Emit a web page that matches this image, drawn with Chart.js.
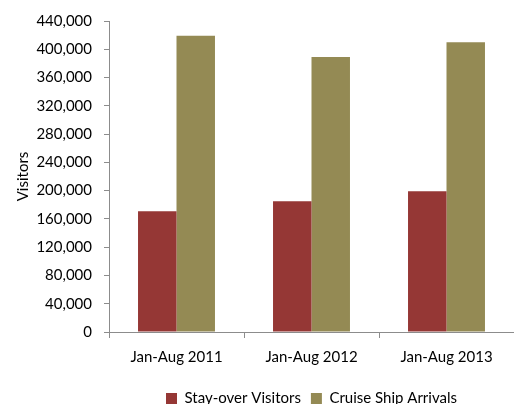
<!DOCTYPE html>
<html>
<head>
<meta charset="utf-8">
<script src="https://cdn.jsdelivr.net/npm/chart.js@4"></script>
<style>
  html, body { margin: 0; padding: 0; background: #fff; }
  #wrap { width: 514px; height: 404px; }
</style>
</head>
<body>
<div id="wrap"><canvas id="visitorsChart"></canvas></div>
<script>
const periods = ["Jan-Aug 2011", "Jan-Aug 2012", "Jan-Aug 2013"];
const stayOver = [171000, 185000, 199000];
const cruiseArrivals = [419000, 389000, 410000];
const yMax = 440000;
const yStep = 40000;

const axisColor = "#8c8c8c";
const fontFamily = "Lato, 'Liberation Sans', sans-serif";

Chart.defaults.font.family = fontFamily;
Chart.defaults.font.size = 15;
Chart.defaults.color = "#000";

const ctx = document.getElementById("visitorsChart").getContext("2d");

new Chart(ctx, {
  type: "bar",
  data: {
    labels: periods,
    datasets: [
      {
        label: "Stay-over Visitors",
        data: stayOver,
        backgroundColor: "#953735",
        barPercentage: 1,
        categoryPercentage: 0.57,
      },
      {
        label: "Cruise Ship Arrivals",
        data: cruiseArrivals,
        backgroundColor: "#948a54",
        barPercentage: 1,
        categoryPercentage: 0.57,
      },
    ],
  },
  options: {
    responsive: true,
    maintainAspectRatio: false,
    animation: false,
    layout: {
      padding: { top: 12, right: 0, bottom: -12, left: 0 },
    },
    scales: {
      y: {
        min: 0,
        max: yMax,
        ticks: {
          stepSize: yStep,
          padding: 12,
          callback: (v) => v.toLocaleString("en-US"),
        },
        grid: {
          drawOnChartArea: false,
          tickLength: 5,
          color: axisColor,
        },
        border: { color: axisColor },
        title: {
          display: true,
          text: "Visitors",
          padding: { top: 14, bottom: 0 },
        },
        afterFit: (scale) => {
          scale.width = 109; // axis line sits at x=109 in the original
        },
      },
      x: {
        ticks: { padding: 10 },
        grid: {
          drawOnChartArea: false,
          tickLength: 6,
          color: axisColor,
        },
        border: { color: axisColor },
        afterFit: (scale) => {
          scale.height += 5;
        },
      },
    },
    plugins: {
      legend: {
        position: "bottom",
        fullSize: false,
        labels: {
          boxWidth: 11,
          boxHeight: 11,
          padding: 10,
        },
      },
      tooltip: { enabled: false },
    },
  },
});
</script>
</body>
</html>
